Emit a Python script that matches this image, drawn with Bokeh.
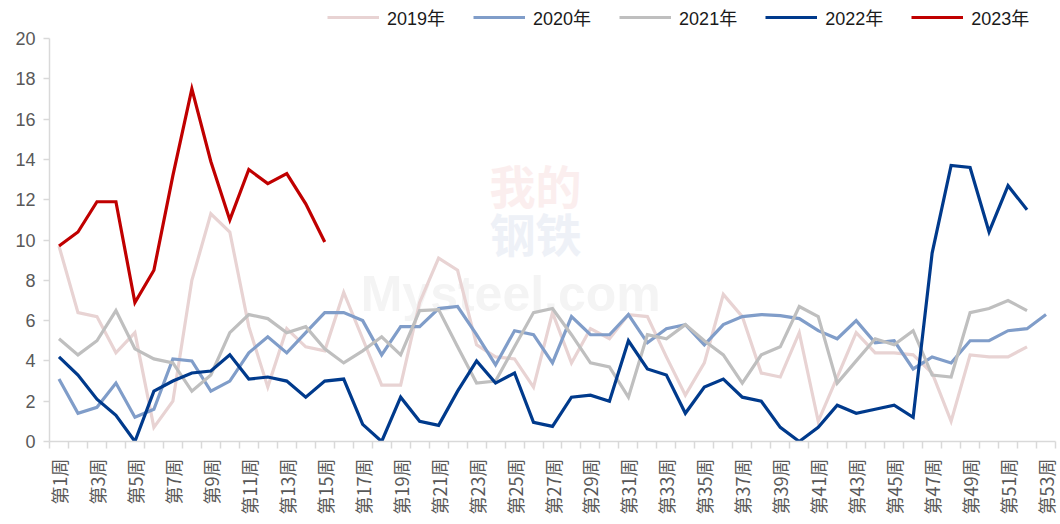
from bokeh.plotting import figure
from bokeh.models import Range1d, FixedTicker, Legend, LegendItem, Label
from bokeh.embed import file_html
from bokeh.resources import INLINE

# ---- data ----
weeks = list(range(1, 54))
tick_weeks = list(range(1, 54, 2))
tick_labels = {w: f"第{w}周" for w in tick_weeks}

y2019 = [9.7, 6.4, 6.2, 4.4, 5.4, 0.7, 2.0, 8.0, 11.3, 10.4, 5.7, 2.7, 5.6, 4.7, 4.5,
         7.4, 5.1, 2.8, 2.8, 6.9, 9.1, 8.5, 4.8, 4.2, 4.1, 2.7, 6.4, 3.9, 5.6, 5.1,
         6.3, 6.2, 4.2, 2.3, 3.9, 7.3, 6.2, 3.4, 3.2, 5.4, 1.0, 3.2, 5.4, 4.4, 4.4,
         4.3, 3.4, 1.0, 4.3, 4.2, 4.2, 4.7]
y2020 = [3.1, 1.4, 1.7, 2.9, 1.2, 1.6, 4.1, 4.0, 2.5, 3.0, 4.4, 5.2, 4.4, 5.4, 6.4,
         6.4, 6.0, 4.3, 5.7, 5.7, 6.6, 6.7, 5.3, 3.8, 5.5, 5.3, 3.9, 6.2, 5.3, 5.3,
         6.3, 4.9, 5.6, 5.8, 4.8, 5.8, 6.2, 6.3, 6.25, 6.1, 5.5, 5.1, 6.0, 4.9, 5.0,
         3.6, 4.2, 3.9, 5.0, 5.0, 5.5, 5.6, 6.3]
y2021 = [5.1, 4.3, 5.0, 6.5, 4.6, 4.1, 3.9, 2.5, 3.3, 5.4, 6.3, 6.1, 5.4, 5.7, 4.6,
         3.9, 4.5, 5.2, 4.3, 6.5, 6.55, 4.7, 2.9, 3.0, 4.7, 6.4, 6.6, 5.3, 3.9, 3.7,
         2.2, 5.3, 5.1, 5.8, 5.0, 4.3, 2.9, 4.3, 4.7, 6.7, 6.2, 2.9, 4.0, 5.1, 4.8,
         5.5, 3.3, 3.2, 6.4, 6.6, 7.0, 6.5]
y2022 = [4.2, 3.3, 2.1, 1.3, 0.0, 2.5, 3.0, 3.4, 3.5, 4.3, 3.1, 3.2, 3.0, 2.2, 3.0,
         3.1, 0.85, 0.0, 2.2, 1.0, 0.8, 2.5, 4.0, 2.9, 3.4, 0.95, 0.75, 2.2, 2.3, 2.0,
         5.0, 3.6, 3.3, 1.4, 2.7, 3.1, 2.2, 2.0, 0.7, 0.0, 0.7, 1.8, 1.4, 1.6, 1.8,
         1.2, 9.35, 13.7, 13.6, 10.4, 12.7, 11.5]
y2023 = [9.7, 10.4, 11.9, 11.9, 6.9, 8.5, 13.2, 17.5, 13.9, 11.0, 13.5, 12.8, 13.3,
         11.8, 9.9]

series = [
    ("2019年", y2019, "#E8D3D3"),
    ("2020年", y2020, "#809DC9"),
    ("2021年", y2021, "#BFBFBF"),
    ("2022年", y2022, "#003A8C"),
    ("2023年", y2023, "#C00000"),
]

AX = "#D9D9D9"
LAB = "#595959"

# frame spans the legend row too; the value axis itself is bounded to 0..20
p = figure(width=1060, height=524, output_backend="svg", toolbar_location=None,
           x_range=Range1d(0.5, 53.5), y_range=Range1d(0, 21.89),
           min_border_left=49, min_border_right=5, min_border_top=0,
           min_border_bottom=83)
p.outline_line_color = None
p.grid.visible = False
p.background_fill_color = "white"

# watermark
for txt, x, y, size, col in [
    ("我的", 26.1, 12.6, "46px", "#FBEEEE"),
    ("钢铁", 26.1, 10.2, "46px", "#EEF1F7"),
    ("Mysteel.com", 24.8, 7.3, "50px", "#F4F4F4"),
]:
    p.add_layout(Label(x=x, y=y, text=txt, text_font_size=size, text_color=col,
                       text_align="center", text_baseline="middle",
                       text_font="Liberation Sans, Noto Sans CJK SC",
                       text_font_style="bold", level="underlay"))

items = []
for name, vals, col in series:
    r = p.line(weeks[:len(vals)], vals, line_color=col, line_width=3.2,
               line_join="miter")
    items.append(LegendItem(label=name, renderers=[r]))

legend = Legend(items=items, orientation="horizontal", location=(278, 409),
                border_line_alpha=0, background_fill_alpha=0,
                label_text_font="Liberation Sans, Noto Sans CJK SC",
                label_text_font_size="18px", label_text_color="#1A1A1A",
                glyph_width=52, glyph_height=30, label_height=30,
                label_standoff=8, spacing=28, padding=0, margin=0)
p.add_layout(legend, "center")

# x axis
xa = p.xaxis[0]
xa.ticker = FixedTicker(ticks=tick_weeks, minor_ticks=[w + 0.5 for w in range(0, 54)])
xa.major_label_overrides = tick_labels
xa.major_label_orientation = 3.14159265 / 2
xa.major_label_text_font = "Noto Sans CJK SC"
xa.major_label_text_font_size = "18px"
xa.major_label_text_color = LAB
xa.major_label_standoff = 10
xa.major_tick_out = 0
xa.major_tick_in = 0
xa.minor_tick_out = 7
xa.minor_tick_in = 0
xa.minor_tick_line_color = AX
xa.minor_tick_line_width = 1.5
xa.axis_line_color = AX
xa.axis_line_width = 1.5

# y axis
ya = p.yaxis[0]
ya.bounds = (0, 20)
ya.ticker = FixedTicker(ticks=list(range(0, 21, 2)))
ya.minor_tick_line_color = None
ya.major_tick_out = 6
ya.major_tick_in = 0
ya.major_tick_line_color = AX
ya.major_tick_line_width = 1.5
ya.axis_line_color = AX
ya.axis_line_width = 1.5
ya.major_label_text_font = "Liberation Sans"
ya.major_label_text_font_size = "18px"
ya.major_label_text_color = LAB
ya.major_label_standoff = 8

open("out.html", "w").write(file_html(p, INLINE))
